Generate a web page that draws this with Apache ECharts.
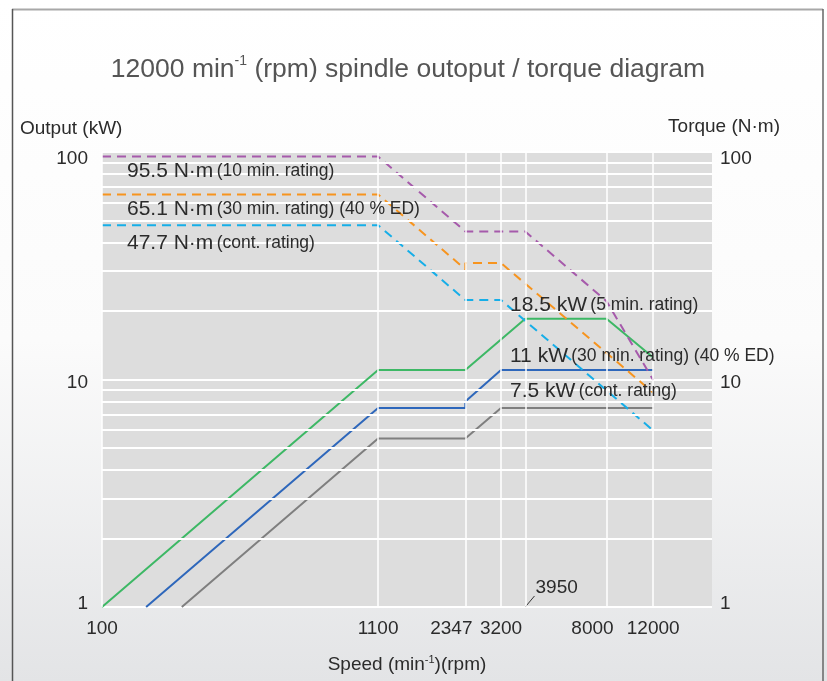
<!DOCTYPE html>
<html>
<head>
<meta charset="utf-8">
<script src="https://cdn.jsdelivr.net/npm/echarts@6/dist/echarts.min.js"></script>
<style>
  html, body { margin: 0; padding: 0; }
  #chart { width: 827px; height: 681px; }
</style>
</head>
<body>
<div id="chart"></div>
<script>
// speed (min-1) / output (kW)
var speed5min = [100, 1100, 2347, 3950, 8000, 12000];
var power5min = [1, 11, 11, 18.5, 18.5, 12.5];
var speed30min = [146.7, 1100, 2347, 2347, 3200, 12000];
var power30min = [1, 7.5, 7.5, 8, 11, 11];
var speedCont = [200, 1100, 2347, 3200, 12000];
var powerCont = [1, 5.5, 5.5, 7.5, 7.5];

// speed (min-1) / torque (N·m)
var tSpeed10min = [100, 1100, 2347, 3950, 8000, 12000];
var torque10min = [95.5, 95.5, 44.75, 44.75, 22.1, 9.95];
var tSpeed30min = [100, 1100, 2347, 2347, 3200, 12000];
var torque30min = [65.1, 65.1, 30.5, 32.5, 32.5, 8.75];
var tSpeedCont = [100, 1100, 2347, 3200, 12000];
var torqueCont = [47.7, 47.7, 22.36, 22.36, 5.97];

var speedTicks = [100, 1100, 2347, 3200, 8000, 12000];
var speedGrid = [100, 1100, 2347, 3200, 3950, 8000, 12000];
var valueGrid = [2, 3, 4, 5, 6, 7, 8, 9, 20, 30, 40, 50, 60, 70, 80, 90];
var calloutSpeed = [3950, 4280];
var calloutValue = [1, 1.118];

function pairs(xs, ys) {
  return xs.map(function (x, i) { return [x, ys[i]]; });
}

var chart = echarts.init(document.getElementById('chart'));

var txt = '#2b2b2b';
var FONT = 'Liberation Sans';
var labelRich = {
  big: { fontSize: 21, fill: txt, fontFamily: FONT },
  sm: { fontSize: 17.5, fill: txt, fontFamily: FONT }
};

function solid(name, data, color) {
  return {
    name: name, type: 'line', data: data, symbol: 'none', z: 3,
    lineStyle: { color: color, width: 2 }
  };
}
function dashed(name, data, color) {
  return {
    name: name, type: 'line', data: data, symbol: 'none', yAxisIndex: 1, z: 3,
    lineStyle: { color: color, width: 2, type: [9, 6] }
  };
}

// value axis labels sit a little off their gridlines in the original
function valueLabel(v) {
  var r = Math.round(v);
  if (r === 100) return '{top|100}';
  if (r === 1) return '{bot|1}';
  return '{mid|' + r + '}';
}
var valueRich = {
  top: { fontSize: 19, color: txt, padding: [14, 0, 0, 0] },
  mid: { fontSize: 19, color: txt, padding: [6, 0, 0, 0] },
  bot: { fontSize: 19, color: txt, padding: [0, 0, 6, 0] }
};

var option = {
  backgroundColor: {
    type: 'linear', x: 0, y: 0, x2: 0, y2: 1,
    colorStops: [
      { offset: 0, color: '#ffffff' },
      { offset: 0.5, color: '#fbfbfb' },
      { offset: 1, color: '#e3e4e6' }
    ]
  },
  textStyle: { fontFamily: FONT },
  animation: false,
  grid: {
    left: 102, right: 115, top: 152, bottom: 74,
    show: true, backgroundColor: '#dddddd', borderWidth: 0
  },
  xAxis: {
    type: 'log', logBase: 10, min: 100, max: 20000,
    name: '{n|Speed (min}{s|-1}{n|)(rpm)}',
    nameLocation: 'middle', nameGap: 47,
    nameTextStyle: {
      rich: {
        n: { fontSize: 19, color: txt, lineHeight: 22 },
        s: { fontSize: 11, color: txt, verticalAlign: 'top', lineHeight: 22 }
      }
    },
    axisLine: { show: false },
    axisTick: { show: false },
    splitLine: { show: false },
    axisLabel: {
      customValues: speedTicks,
      margin: 12,
      fontSize: 19,
      color: txt,
      formatter: function (v) {
        var r = Math.round(v);
        if (r === 2347 || r === 8000) return '{a|' + r + '}';
        return '{d|' + r + '}';
      },
      rich: {
        a: { fontSize: 19, color: txt, padding: [0, 28, 0, 0] },
        d: { fontSize: 19, color: txt }
      }
    }
  },
  yAxis: [{
    type: 'log', logBase: 10, min: 1, max: 100,
    axisLine: { show: false },
    axisTick: { show: false },
    splitLine: { show: true, lineStyle: { color: '#ffffff', width: 2 } },
    axisLabel: { margin: 14, formatter: valueLabel, rich: valueRich }
  }, {
    type: 'log', logBase: 10, min: 1, max: 100,
    position: 'right',
    axisLine: { show: false },
    axisTick: { show: false },
    splitLine: { show: false },
    axisLabel: { margin: 8, formatter: valueLabel, rich: valueRich }
  }],
  series: [
    {
      name: 'grid', type: 'line', data: [], z: 1, silent: true,
      markLine: {
        silent: true, symbol: 'none', animation: false,
        label: { show: false },
        data: speedGrid.map(function (v) {
          return { xAxis: v, lineStyle: { color: '#ffffff', width: 1.5, type: 'solid' } };
        }).concat(valueGrid.map(function (v) {
          return { yAxis: v, lineStyle: { color: '#ffffff', width: 2, type: 'solid' } };
        }))
      }
    },
    solid('18.5 kW (5 min. rating)', pairs(speed5min, power5min), '#3db865'),
    solid('11 kW (30 min. rating)', pairs(speed30min, power30min), '#2e67bb'),
    solid('7.5 kW (cont. rating)', pairs(speedCont, powerCont), '#7f7f7f'),
    dashed('95.5 N·m (10 min. rating)', pairs(tSpeed10min, torque10min), '#a65aab'),
    dashed('65.1 N·m (30 min. rating)', pairs(tSpeed30min, torque30min), '#f7941e'),
    dashed('47.7 N·m (cont. rating)', pairs(tSpeedCont, torqueCont), '#16aee8'),
    {
      name: '3950', type: 'line', symbol: 'none', z: 3, silent: true,
      data: pairs(calloutSpeed, calloutValue),
      lineStyle: { color: '#333333', width: 1 },
      endLabel: {
        show: true, formatter: '3950', fontSize: 19, color: txt,
        offset: [1, -8], distance: 0
      }
    }
  ],
  graphic: [
    { type: 'line', shape: { x1: 12, y1: 9.5, x2: 823, y2: 9.5 }, style: { stroke: '#a8a8a8', lineWidth: 2 } },
    { type: 'line', shape: { x1: 12.5, y1: 9, x2: 12.5, y2: 690 }, style: { stroke: '#555555', lineWidth: 1.5 } },
    { type: 'line', shape: { x1: 823, y1: 9, x2: 823, y2: 690 }, style: { stroke: '#666666', lineWidth: 1.5 } },
    {
      type: 'text', x: 408, y: 70,
      style: {
        text: '{n|12000 min}{s|-1}{n| (rpm) spindle outoput / torque diagram}',
        align: 'center', verticalAlign: 'middle',
        rich: {
          n: { fontSize: 26.5, fill: '#555555', fontFamily: FONT, lineHeight: 32 },
          s: { fontSize: 14, fill: '#555555', fontFamily: FONT, verticalAlign: 'top', lineHeight: 32 }
        }
      }
    },
    { type: 'text', x: 20, y: 129, style: { text: 'Output (kW)', fontSize: 19, fill: txt, fontFamily: FONT, verticalAlign: 'middle' } },
    { type: 'text', x: 780, y: 127, style: { text: 'Torque (N·m)', fontSize: 19, fill: txt, fontFamily: FONT, align: 'right', verticalAlign: 'middle' } },
    { type: 'text', x: 127, y: 171, z: 10, style: { text: '{big|95.5 N·m} {sm|(10 min. rating)}', rich: labelRich, verticalAlign: 'middle' } },
    { type: 'text', x: 127, y: 209, z: 10, style: { text: '{big|65.1 N·m} {sm|(30 min. rating) (40 % ED)}', rich: labelRich, verticalAlign: 'middle' } },
    { type: 'text', x: 127, y: 243, z: 10, style: { text: '{big|47.7 N·m} {sm|(cont. rating)}', rich: labelRich, verticalAlign: 'middle' } },
    { type: 'text', x: 510, y: 305, z: 10, style: { text: '{big|18.5 kW} {sm|(5 min. rating)}', rich: labelRich, verticalAlign: 'middle' } },
    { type: 'text', x: 510, y: 356, z: 10, style: { text: '{big|11 kW} {sm|(30 min. rating) (40 % ED)}', rich: labelRich, verticalAlign: 'middle' } },
    { type: 'text', x: 510, y: 391, z: 10, style: { text: '{big|7.5 kW} {sm|(cont. rating)}', rich: labelRich, verticalAlign: 'middle' } }
  ]
};

chart.setOption(option);
</script>
</body>
</html>
